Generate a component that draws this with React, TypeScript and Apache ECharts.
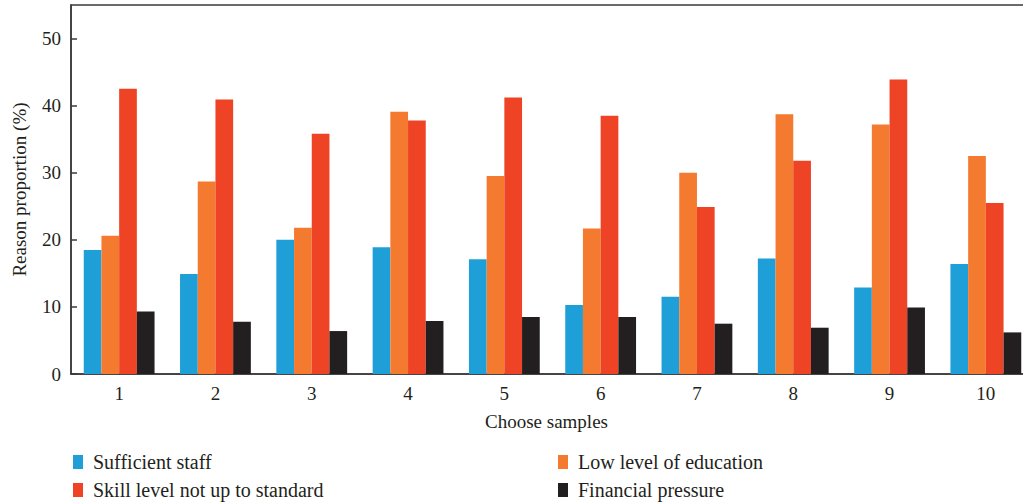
import React, { useEffect, useRef } from "react";
import * as echarts from "echarts";

const samples = ["1", "2", "3", "4", "5", "6", "7", "8", "9", "10"];
const sufficientStaff = [18.5, 14.9, 20.0, 18.9, 17.1, 10.3, 11.5, 17.2, 12.9, 16.4];
const lowEducation = [20.6, 28.7, 21.8, 39.1, 29.5, 21.7, 30.0, 38.7, 37.2, 32.5];
const skillLevel = [42.5, 40.9, 35.8, 37.8, 41.2, 38.5, 24.9, 31.8, 43.9, 25.5];
const financialPressure = [9.3, 7.8, 6.4, 7.9, 8.5, 8.5, 7.5, 6.9, 9.9, 6.2];

const seriesNames = [
  "Sufficient staff",
  "Low level of education",
  "Skill level not up to standard",
  "Financial pressure",
];
const colors = ["#1e9fd8", "#f47a30", "#ee4325", "#231f20"];

const FONT = "Liberation Serif";
const TEXT = "#231f20";

export default function App() {
  const ref = useRef<HTMLDivElement>(null);

  useEffect(() => {
    if (!ref.current) return;
    const chart = echarts.init(ref.current, undefined, { renderer: "svg" });
    const values = [sufficientStaff, lowEducation, skillLevel, financialPressure];
    const legendPos = [
      { left: 68, top: 447 },
      { left: 553, top: 447 },
      { left: 68, top: 475 },
      { left: 553, top: 475 },
    ];
    chart.setOption({
      animation: false,
      backgroundColor: "#ffffff",
      grid: {
        left: 71,
        top: 5,
        width: 963,
        height: 369,
        outerBoundsMode: "none",
        show: true,
        borderColor: "#3a3a3a",
        borderWidth: 1.5,
        backgroundColor: "transparent",
      },
      legend: seriesNames.map((name, i) => ({
        data: [name],
        left: legendPos[i].left,
        top: legendPos[i].top,
        icon: "rect",
        itemWidth: 10,
        itemHeight: 14,
        textStyle: {
          fontFamily: FONT,
          fontSize: 20,
          color: TEXT,
          padding: [0, 0, 0, 5],
        },
      })),
      xAxis: {
        type: "category",
        data: samples,
        name: "Choose samples",
        nameLocation: "middle",
        nameGap: 38,
        nameTextStyle: { fontFamily: FONT, fontSize: 19, color: TEXT, padding: [0, 12, 0, 0] },
        axisLine: { lineStyle: { color: "#3a3a3a", width: 1.5 } },
        axisTick: { inside: true, length: 6, lineStyle: { color: "#3a3a3a", width: 1.5 } },
        axisLabel: { fontFamily: FONT, fontSize: 19, color: TEXT, margin: 10 },
      },
      yAxis: {
        type: "value",
        min: 0,
        max: 55,
        interval: 10,
        name: "Reason proportion (%)",
        nameLocation: "middle",
        nameGap: 42,
        nameTextStyle: { fontFamily: FONT, fontSize: 19, color: TEXT },
        axisLine: { show: true, lineStyle: { color: "#3a3a3a", width: 1.5 } },
        axisTick: { show: true, inside: true, length: 6, lineStyle: { color: "#3a3a3a", width: 1.5 } },
        axisLabel: { fontFamily: FONT, fontSize: 19, color: TEXT, margin: 10, showMaxLabel: false },
        splitLine: { show: false },
      },
      series: seriesNames.map((name, i) => ({
        name,
        type: "bar",
        data: values[i],
        barWidth: 17.7,
        barGap: "0%",
        itemStyle: { color: colors[i] },
      })),
    });
    return () => chart.dispose();
  }, []);

  return (
    <div
      ref={ref}
      style={{ position: "fixed", left: 0, top: 0, width: 1023, height: 502, background: "#fff" }}
    />
  );
}
